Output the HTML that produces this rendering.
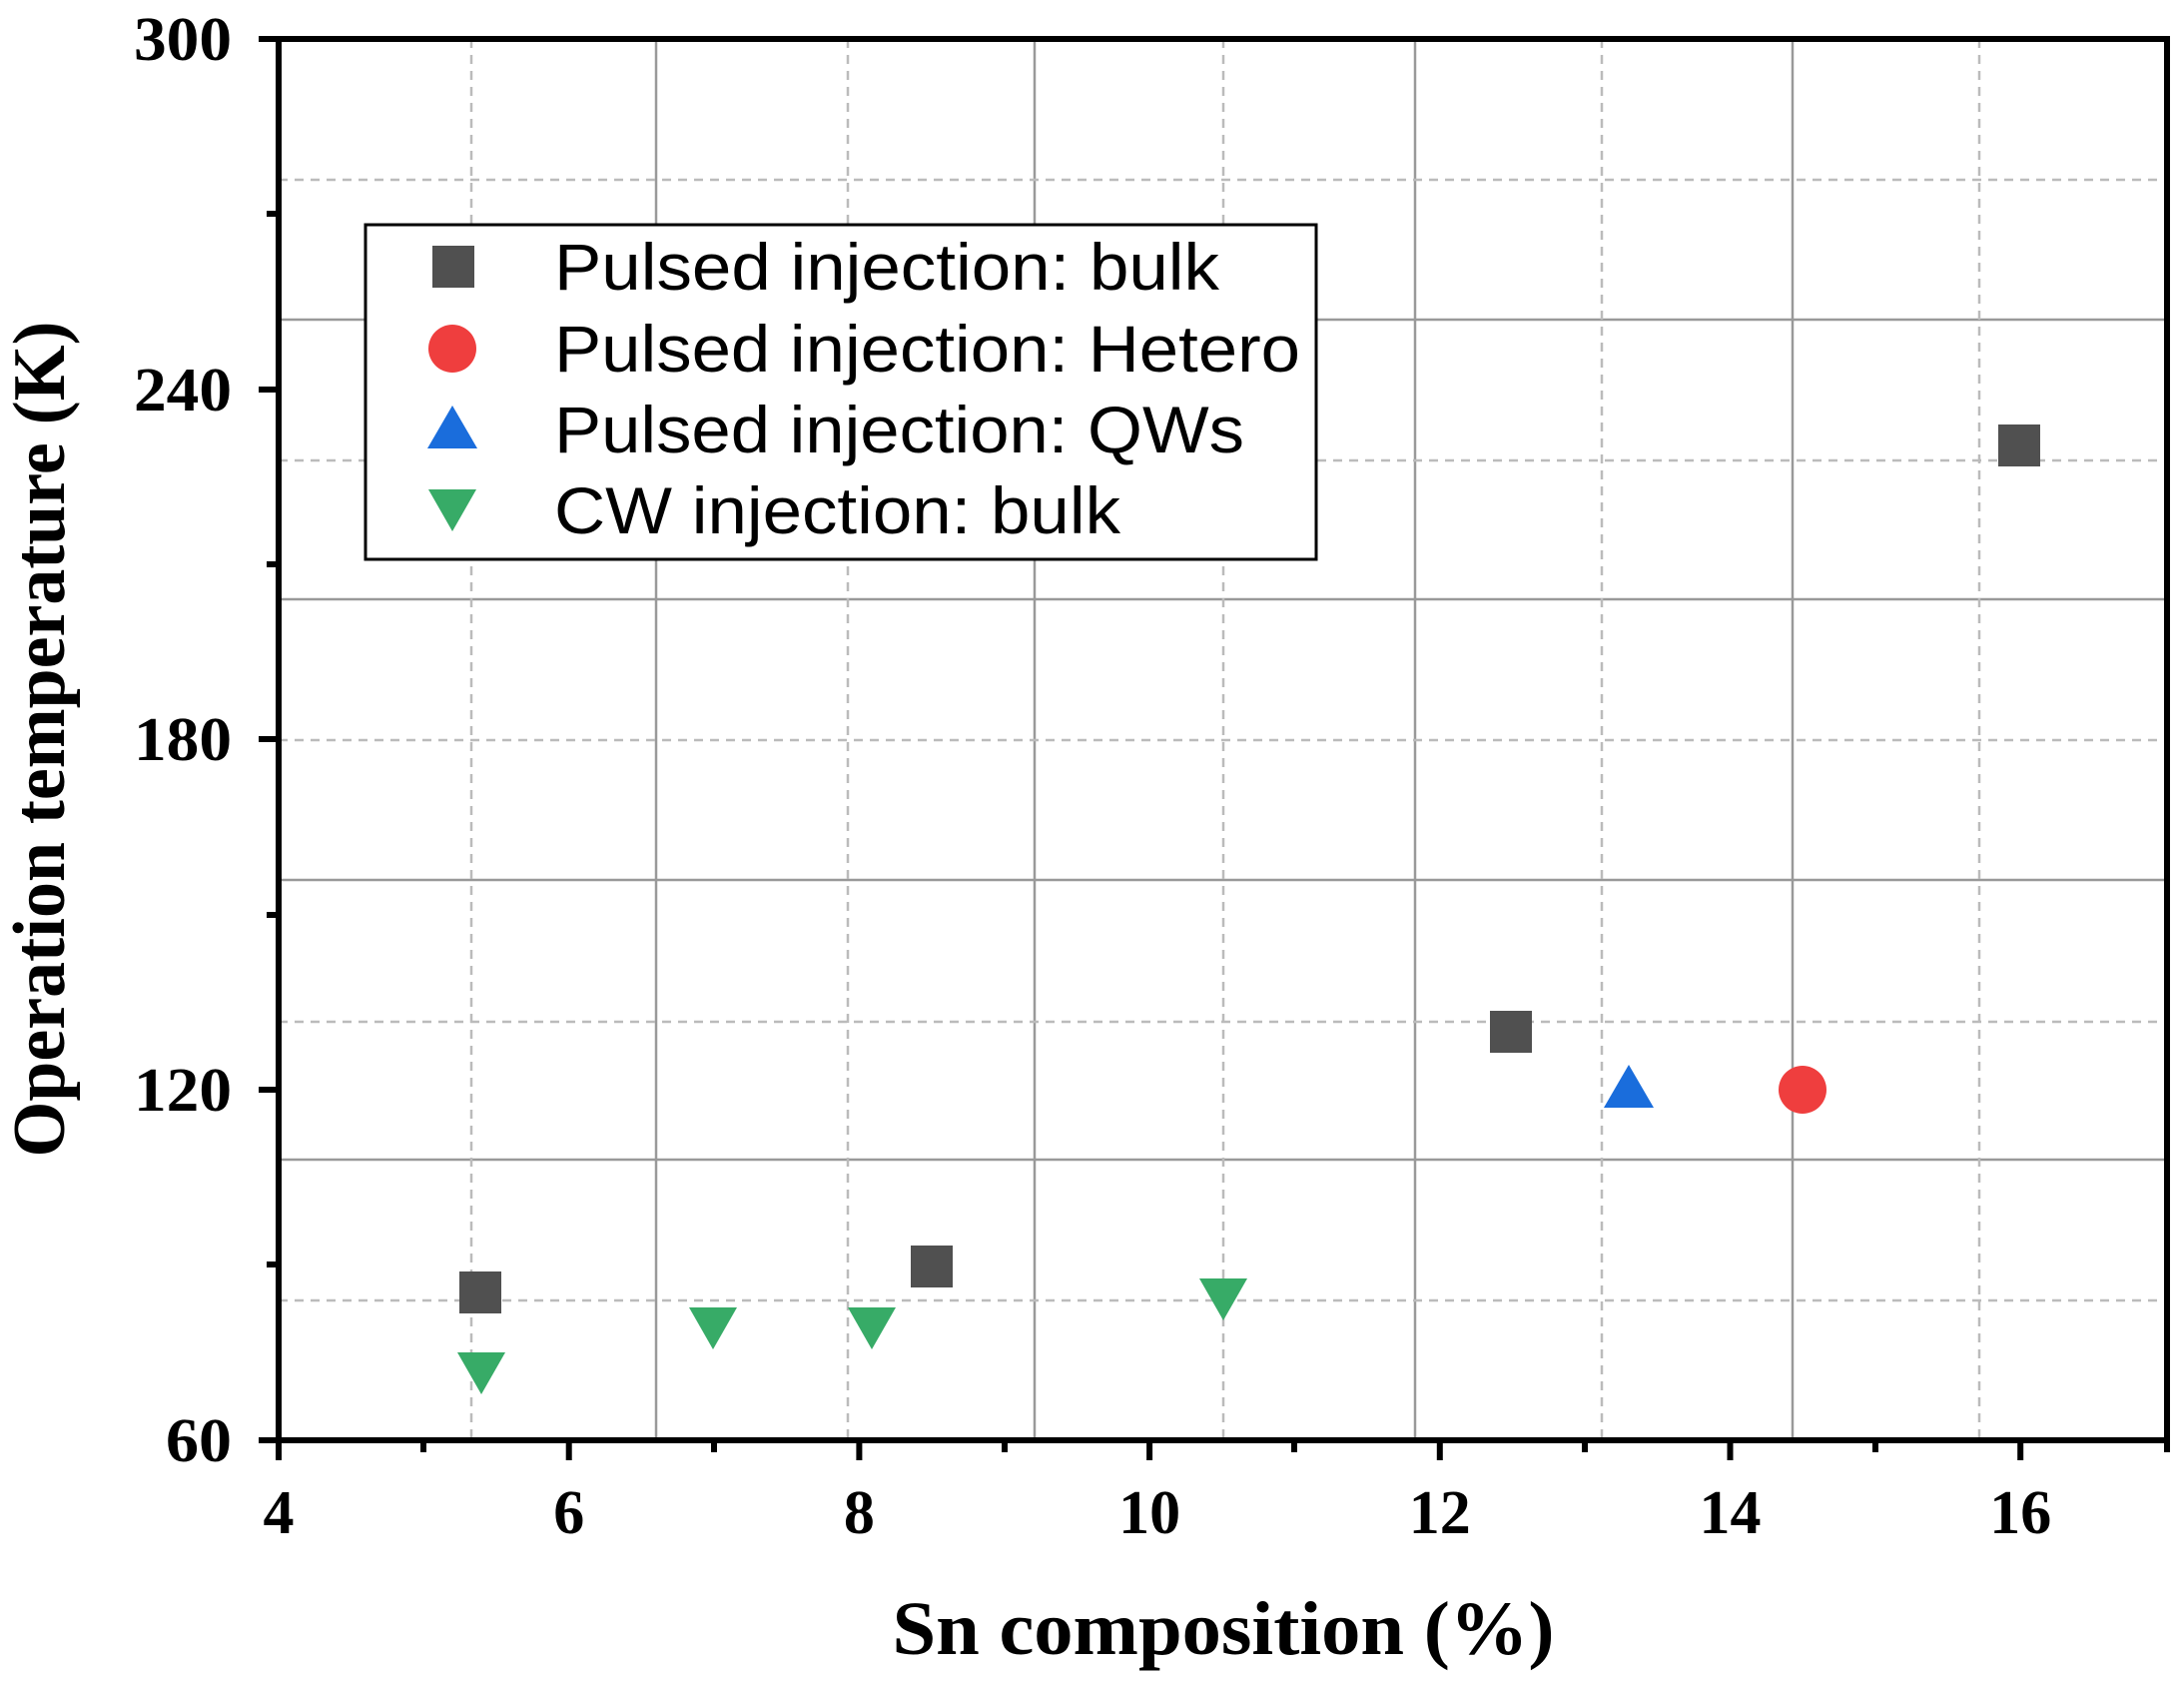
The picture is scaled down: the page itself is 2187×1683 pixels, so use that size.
<!DOCTYPE html>
<html><head><meta charset="utf-8"><style>html,body{margin:0;padding:0;background:#fff}svg{display:block}</style></head>
<body>
<svg width="2187" height="1683" viewBox="0 0 2187 1683" xmlns="http://www.w3.org/2000/svg">
<rect width="2187" height="1683" fill="#fff"/>
<g stroke="#999" stroke-width="2.5">
<line x1="657" y1="39" x2="657" y2="1442"/><line x1="1036" y1="39" x2="1036" y2="1442"/>
<line x1="1417" y1="39" x2="1417" y2="1442"/><line x1="1795" y1="39" x2="1795" y2="1442"/>
<line x1="279" y1="320" x2="2170" y2="320"/><line x1="279" y1="600" x2="2170" y2="600"/>
<line x1="279" y1="881" x2="2170" y2="881"/><line x1="279" y1="1161" x2="2170" y2="1161"/>
</g>
<g stroke="#bbb" stroke-width="2.5" stroke-dasharray="9,7">
<line x1="472" y1="39" x2="472" y2="1442"/><line x1="849" y1="39" x2="849" y2="1442"/>
<line x1="1225" y1="39" x2="1225" y2="1442"/><line x1="1604" y1="39" x2="1604" y2="1442"/>
<line x1="1982" y1="39" x2="1982" y2="1442"/>
<line x1="279" y1="180" x2="2170" y2="180"/><line x1="279" y1="461" x2="2170" y2="461"/>
<line x1="279" y1="741" x2="2170" y2="741"/><line x1="279" y1="1023" x2="2170" y2="1023"/>
<line x1="279" y1="1302" x2="2170" y2="1302"/>
</g>
<rect x="279" y="39" width="1891" height="1403" fill="none" stroke="#000" stroke-width="6"/>
<g stroke="#000" stroke-width="6">
<line x1="279" y1="1442" x2="279" y2="1462"/><line x1="569.7" y1="1442" x2="569.7" y2="1462"/>
<line x1="860.4" y1="1442" x2="860.4" y2="1462"/><line x1="1151.1" y1="1442" x2="1151.1" y2="1462"/>
<line x1="1441.8" y1="1442" x2="1441.8" y2="1462"/><line x1="1732.5" y1="1442" x2="1732.5" y2="1462"/>
<line x1="2023.2" y1="1442" x2="2023.2" y2="1462"/>
<line x1="424" y1="1442" x2="424" y2="1454"/><line x1="715" y1="1442" x2="715" y2="1454"/>
<line x1="1006" y1="1442" x2="1006" y2="1454"/><line x1="1296" y1="1442" x2="1296" y2="1454"/>
<line x1="1587" y1="1442" x2="1587" y2="1454"/><line x1="1878" y1="1442" x2="1878" y2="1454"/>
<line x1="2170" y1="1442" x2="2170" y2="1454"/>
<line x1="259" y1="39" x2="279" y2="39"/><line x1="259" y1="390" x2="279" y2="390"/>
<line x1="259" y1="740" x2="279" y2="740"/><line x1="259" y1="1091" x2="279" y2="1091"/>
<line x1="259" y1="1442" x2="279" y2="1442"/>
<line x1="267" y1="214" x2="279" y2="214"/><line x1="267" y1="565" x2="279" y2="565"/>
<line x1="267" y1="916" x2="279" y2="916"/><line x1="267" y1="1266" x2="279" y2="1266"/>
</g>
<g font-family="Liberation Serif, serif" font-weight="bold" font-size="62" fill="#000">
<g text-anchor="end">
<text x="232" y="60" textLength="98" lengthAdjust="spacingAndGlyphs">300</text>
<text x="232" y="411" textLength="98" lengthAdjust="spacingAndGlyphs">240</text>
<text x="232" y="761" textLength="98" lengthAdjust="spacingAndGlyphs">180</text>
<text x="232" y="1112" textLength="98" lengthAdjust="spacingAndGlyphs">120</text>
<text x="232" y="1463" textLength="66" lengthAdjust="spacingAndGlyphs">60</text>
</g>
<g text-anchor="middle">
<text x="279" y="1535">4</text><text x="569.7" y="1535">6</text><text x="860.4" y="1535">8</text>
<text x="1151.1" y="1535">10</text><text x="1441.8" y="1535">12</text><text x="1732.5" y="1535">14</text>
<text x="2023.2" y="1535">16</text>
<text x="1225" y="1656" font-size="76" textLength="663" lengthAdjust="spacingAndGlyphs">Sn composition (%)</text>
<text transform="translate(64,740) rotate(-90)" font-size="74" textLength="837" lengthAdjust="spacingAndGlyphs">Operation temperature (K)</text>
</g>
</g>
<rect x="366" y="225" width="952" height="335" fill="#fff" stroke="#000" stroke-width="3"/>
<g font-family="Liberation Sans, Arial, sans-serif" font-size="66" fill="#000">
<text x="555" y="290" textLength="666" lengthAdjust="spacingAndGlyphs">Pulsed injection: bulk</text>
<text x="555" y="372" textLength="747" lengthAdjust="spacingAndGlyphs">Pulsed injection: Hetero</text>
<text x="555" y="453" textLength="691" lengthAdjust="spacingAndGlyphs">Pulsed injection: QWs</text>
<text x="555" y="534" textLength="567" lengthAdjust="spacingAndGlyphs">CW injection: bulk</text>
</g>
<g fill="#505050">
<rect x="433" y="246" width="42" height="42"/>
<rect x="460" y="1273" width="42" height="42"/><rect x="912" y="1247" width="42" height="42"/>
<rect x="1492" y="1012" width="42" height="42"/><rect x="2001" y="425" width="42" height="42"/>
</g>
<g fill="#ef3e3e"><circle cx="453" cy="349" r="24"/><circle cx="1805" cy="1091" r="24"/></g>
<g fill="#1a6ddc">
<polygon points="453,406 478,449 428,449"/>
<polygon points="1631,1066 1656,1109 1606,1109"/>
</g>
<g fill="#37ab67">
<polygon points="429,490 477,490 453,532"/>
<polygon points="458,1354 506,1354 482,1396"/>
<polygon points="690,1309 738,1309 714,1351"/>
<polygon points="849,1309 897,1309 873,1351"/>
<polygon points="1201,1280 1249,1280 1225,1322"/>
</g>
</svg>
</body></html>
